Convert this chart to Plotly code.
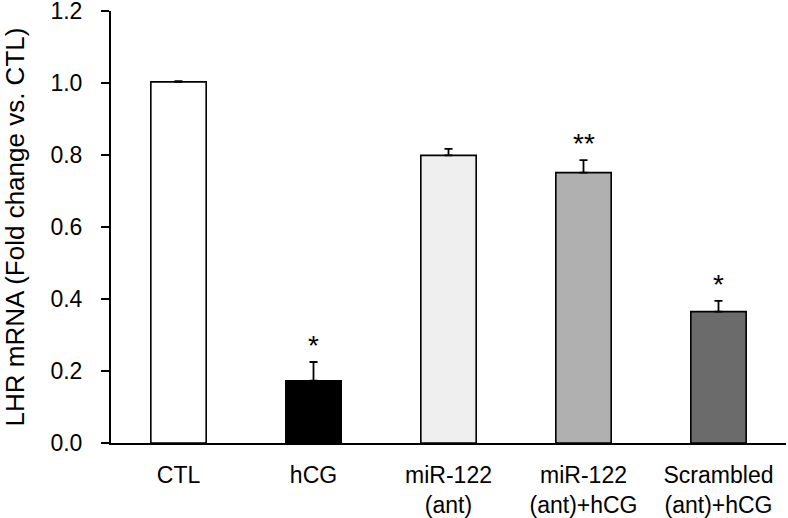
import plotly.graph_objects as go

categories = ["CTL", "hCG", "miR-122<br>(ant)", "miR-122<br>(ant)+hCG", "Scrambled<br>(ant)+hCG"]
means = [1.003, 0.173, 0.799, 0.751, 0.365]
errors = [0.002, 0.052, 0.018, 0.035, 0.030]
bar_colors = ["#ffffff", "#000000", "#efefef", "#b0b0b0", "#6b6b6b"]
significance = ["", "*", "", "**", "*"]
y_ticks = [0.0, 0.2, 0.4, 0.6, 0.8, 1.0, 1.2]

FONT = "Liberation Sans, Arial, sans-serif"
positions = list(range(len(categories)))

fig = go.Figure()
fig.add_trace(go.Bar(
    x=positions,
    y=means,
    width=0.41,
    marker=dict(color=bar_colors, line=dict(color="#000000", width=1.6)),
    error_y=dict(type="data", array=errors, arrayminus=[0] * len(errors),
                 symmetric=False, color="#000000", thickness=1.8, width=4),
    showlegend=False,
))

for xi, (m, e, s) in enumerate(zip(means, errors, significance)):
    if s:
        fig.add_annotation(x=xi, y=m + e, text=s, showarrow=False,
                           yanchor="bottom", yshift=-1,
                           font=dict(family=FONT, size=28, color="#000000"))

fig.update_layout(
    width=788, height=518,
    margin=dict(l=111, r=2, t=11, b=75),
    paper_bgcolor="white", plot_bgcolor="white",
    font=dict(family=FONT, size=24, color="#000000"),
    xaxis=dict(
        range=[-0.5, 4.5],
        tickvals=positions, ticktext=categories,
        showline=True, linecolor="#000000", linewidth=2,
        ticks="", showgrid=False, zeroline=False,
        tickfont=dict(family=FONT, size=23),
        ticklabelstandoff=10,
        automargin=False,
    ),
    yaxis=dict(
        range=[0, 1.2],
        tickvals=y_ticks, ticktext=[f"{v:.1f}" for v in y_ticks],
        showline=True, linecolor="#000000", linewidth=2,
        ticks="outside", ticklen=8, tickwidth=2, tickcolor="#000000",
        ticklabelstandoff=14, ticklabeloverflow="allow",
        showgrid=False, zeroline=False,
        tickfont=dict(family=FONT, size=23),
        automargin=False,
        title=dict(text="LHR mRNA (Fold change vs. CTL)",
                   font=dict(family=FONT, size=26), standoff=24),
    ),
)

fig.write_html("out.html",
               config={"displayModeBar": False},
               post_script="document.body.style.margin='0';document.body.style.overflow='hidden';")
